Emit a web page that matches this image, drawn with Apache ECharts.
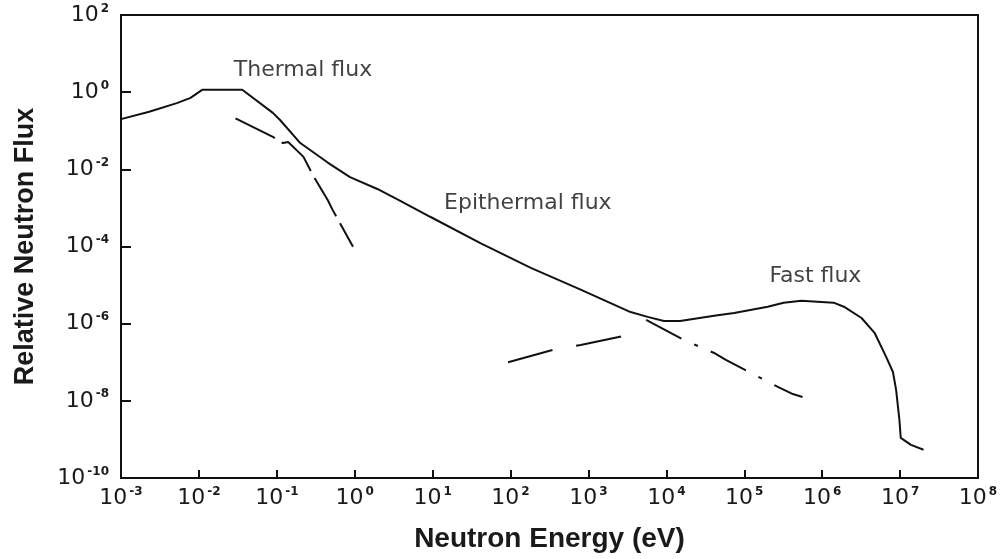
<!DOCTYPE html>
<html>
<head>
<meta charset="utf-8">
<script src="https://cdn.jsdelivr.net/npm/echarts@6/dist/echarts.min.js"></script>
<style>
  html, body { margin: 0; padding: 0; background: #fff; }
  #chart { width: 1006px; height: 559px; }
</style>
</head>
<body>
<div id="chart"></div>
<script>
// Neutron energy (eV) and relative flux for the total reactor spectrum
const totalEnergy = [1e-3, 2.3e-3, 5.2e-3, 7.8e-3, 0.011, 0.036, 0.089, 0.11, 0.2, 0.45, 0.87, 1.95, 3.9,
  9.3, 41, 182, 794, 3470, 5750, 9300, 1.5e4, 4.1e4, 7.4e4, 2.0e5, 3.2e5, 5.4e5, 1.4e6, 1.9e6,
  3.2e6, 4.7e6, 6.6e6, 8.1e6, 8.9e6, 9.8e6, 1.02e7, 1.38e7, 2.0e7];
const totalFlux = [0.2, 0.31, 0.52, 0.71, 1.15, 1.15, 0.29, 0.19, 0.048, 0.015, 6.3e-3, 3.1e-3, 1.5e-3,
  5.9e-4, 1.23e-4, 2.8e-5, 7.6e-6, 2.0e-6, 1.5e-6, 1.17e-6, 1.17e-6, 1.6e-6, 1.9e-6, 2.75e-6, 3.5e-6, 3.9e-6, 3.5e-6, 2.75e-6,
  1.4e-6, 5.8e-7, 1.4e-7, 5.6e-8, 1.9e-8, 3.2e-9, 1.1e-9, 7.2e-10, 5.4e-10];

// Maxwellian (thermal) component
const thermalEnergy = [0.0295, 0.089, 0.12, 0.14, 0.22, 0.30, 0.45, 0.52, 0.95];
const thermalFlux = [0.21, 0.069, 0.048, 0.051, 0.021, 6.3e-3, 1.6e-3, 8.9e-4, 9.8e-5];

// Fission (fast) component, low-energy side
const fastEnergy = [93, 355, 794, 5100];
const fastFlux = [1.0e-7, 2.1e-7, 2.8e-7, 6.2e-7];

// 1/E (epithermal) slowing-down tail continued into the fast region
const epiEnergy = [5500, 1.66e4, 4.1e4, 5.8e4, 2.7e5, 4.2e5, 5.6e5];
const epiFlux = [1.26e-6, 3.8e-7, 1.74e-7, 1.15e-7, 2.3e-8, 1.5e-8, 1.26e-8];

// Region annotations: [energy, flux, text]
const regionLabels = [
  [0.028, 3.6, 'Thermal flux'],
  [14, 1.3e-3, 'Epithermal flux'],
  [2.1e5, 1.7e-5, 'Fast flux']
];

const xTitle = 'Neutron Energy (eV)';
const yTitle = 'Relative Neutron Flux';

function zip(xs, ys) { return xs.map((x, i) => [x, ys[i]]); }

const supFormatter = v => {
  const e = Math.round(Math.log10(v));
  return '{b|10}{s|' + e + '}';
};
const labelRich = {
  b: { fontFamily: 'DejaVu Sans', fontSize: 22, color: '#1a1a1a', lineHeight: 26 },
  s: { fontFamily: 'DejaVu Sans', fontSize: 12, fontWeight: 'bold', color: '#1a1a1a', lineHeight: 26, padding: [0, 0, 13, 2] }
};

const chart = echarts.init(document.getElementById('chart'), null, { renderer: 'canvas' });
chart.setOption({
  animation: false,
  backgroundColor: '#fff',
  grid: { left: 121, right: 28, top: 15, bottom: 81, show: true, borderColor: '#111', borderWidth: 2, backgroundColor: 'transparent' },
  xAxis: {
    type: 'log', logBase: 10, min: 1e-3, max: 1e8, interval: 1,
    name: xTitle, nameLocation: 'middle', nameGap: 47,
    nameTextStyle: { fontFamily: 'Liberation Sans', fontWeight: 'bold', fontSize: 28, color: '#1a1a1a' },
    axisLine: { show: true, lineStyle: { color: '#111', width: 2 } },
    axisTick: { show: true, inside: true, length: 8, lineStyle: { color: '#111', width: 2 } },
    minorTick: { show: false },
    splitLine: { show: false },
    axisLabel: { margin: 7, formatter: supFormatter, rich: labelRich }
  },
  yAxis: {
    type: 'log', logBase: 10, min: 1e-10, max: 1e2, interval: 2,
    name: yTitle, nameLocation: 'middle', nameGap: 82, nameRotate: 90,
    nameTextStyle: { fontFamily: 'Liberation Sans', fontWeight: 'bold', fontSize: 27, color: '#1a1a1a' },
    axisLine: { show: true, lineStyle: { color: '#111', width: 2 } },
    axisTick: { show: true, inside: true, length: 10, lineStyle: { color: '#111', width: 2 } },
    minorTick: { show: false },
    splitLine: { show: false },
    axisLabel: { margin: 12, formatter: supFormatter, rich: labelRich }
  },
  series: [
    {
      type: 'line', data: zip(totalEnergy, totalFlux), showSymbol: false,
      lineStyle: { color: '#111', width: 2 }
    },
    {
      type: 'line', data: zip(thermalEnergy, thermalFlux), showSymbol: false,
      lineStyle: { color: '#111', width: 2, type: [44, 8] }
    },
    {
      type: 'line', data: zip(fastEnergy, fastFlux), showSymbol: false,
      lineStyle: { color: '#111', width: 2, type: [46, 24] }
    },
    {
      type: 'line', data: zip(epiEnergy, epiFlux), showSymbol: false,
      lineStyle: { color: '#111', width: 2, type: [40, 14, 4, 14] }
    },
    {
      type: 'scatter', symbolSize: 0, silent: true,
      data: regionLabels.map(r => ({ value: [r[0], r[1]], name: r[2] })),
      label: {
        show: true, position: 'right', distance: 0,
        formatter: p => p.name,
        fontFamily: 'DejaVu Sans', fontSize: 22, color: '#111'
      }
    }
  ]
});
</script>
</body>
</html>
